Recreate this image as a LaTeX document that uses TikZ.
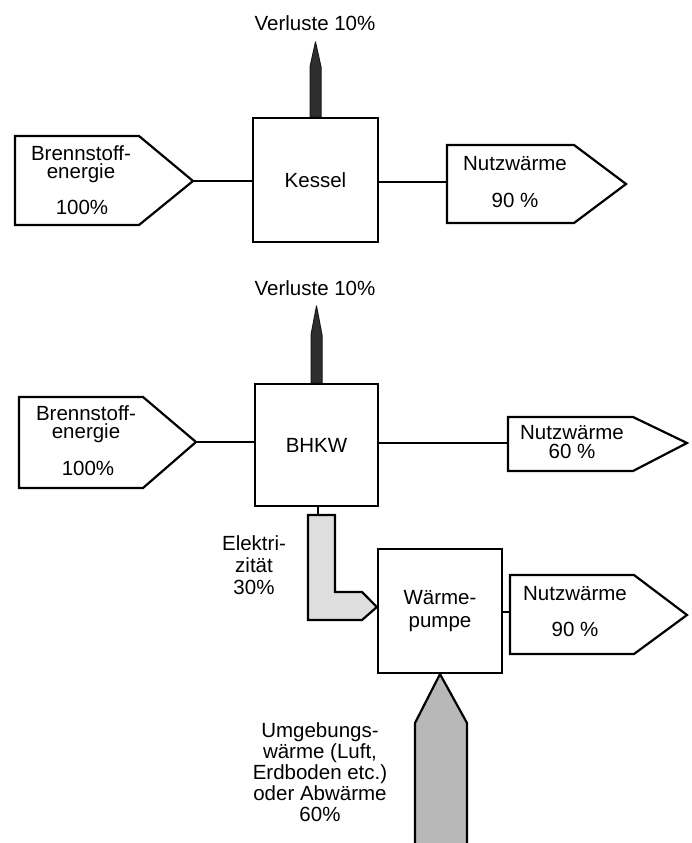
\documentclass[tikz,border=0pt]{standalone}
\usepackage{fontspec}
\setmainfont{Liberation Sans}
\usetikzlibrary{calc}
\begin{document}
\begin{tikzpicture}[x=1pt,y=-1pt,
  lw/.style={line width=2.2pt, line join=miter},
  unit/.style={draw, lw, inner sep=0, align=center, font=\fontsize{20.5}{23}\selectfont, fill=white},
  lbl/.style={inner sep=0, align=center, font=\fontsize{20.5}{21.5}\selectfont},
  tightlbl/.style={inner sep=0, align=center, font=\fontsize{20.5}{18.5}\selectfont},
  flow/.style={draw, lw, fill=white},
  loss/.style={fill=black!82, draw=black!90, line width=1pt, line join=round},
  elec/.style={draw, lw, fill=gray!26},
  amb/.style={fill=gray!56},
]
\useasboundingbox (0,0) rectangle (691,843);
\fill[white] (0,0) rectangle (691,843);

% ---------------- top: Kessel ----------------
\node[unit, minimum width=125pt, minimum height=124pt] (kessel) at (315.5,180) {Kessel};
\filldraw[loss] ($(kessel.north)+(-5.5,0)$) -- ($(kessel.north)+(-5.5,-50)$)
  -- ($(kessel.north)+(0,-75)$) coordinate (ktip) -- ($(kessel.north)+(5.5,-50)$)
  -- ($(kessel.north)+(5.5,0)$) -- cycle;
\node[lbl] (verl1) at (315,23) {Verluste 10\%};

\draw[flow] (15,136) -- (139,136) -- (193,181) coordinate (b1tip) -- (139,225) -- (15,225) -- cycle;
\node[tightlbl] (b1txt) at (81,164) {Brennstoff-\\energie};
\node[lbl] (b1pct) at (82,207) {100\%};
\draw[lw] (b1tip) -- (b1tip -| kessel.west);

\draw[flow] (447,145) -- (574,145) -- (626,184) -- (574,223) -- (447,223) -- cycle;
\coordinate (n1in) at (447,182);
\node[lbl] (n1txt) at (515,164) {Nutzwärme};
\node[lbl] (n1pct) at (515,200) {90 \%};
\draw[lw] (kessel.east |- n1in) -- (n1in);

% ---------------- middle: BHKW ----------------
\node[unit, minimum width=123pt, minimum height=122pt] (bhkw) at (316.5,445) {BHKW};
\filldraw[loss] ($(bhkw.north)+(-5.5,0)$) -- ($(bhkw.north)+(-5.5,-48)$)
  -- ($(bhkw.north)+(0,-77)$) coordinate (btip) -- ($(bhkw.north)+(5.5,-48)$)
  -- ($(bhkw.north)+(5.5,0)$) -- cycle;
\node[lbl] (verl2) at (315,288) {Verluste 10\%};

\draw[flow] (19,397) -- (143,397) -- (196,442) coordinate (b2tip) -- (143,488) -- (19,488) -- cycle;
\node[tightlbl] (b2txt) at (86,424) {Brennstoff-\\energie};
\node[lbl] (b2pct) at (88,468) {100\%};
\draw[lw] (b2tip) -- (b2tip -| bhkw.west);

\draw[flow] (508,417) -- (633,417) -- (687,443) -- (633,471) -- (508,471) -- cycle;
\coordinate (n2in) at (508,443);
\node[tightlbl] (n2txt) at (572,442) {Nutzwärme\\60 \%};
\draw[lw] (bhkw.east |- n2in) -- (n2in);

% ---------------- bottom: Wärmepumpe ----------------
\node[unit, minimum width=124pt, minimum height=124pt] (wp) at (440,611) {Wärme-\\pumpe};

\coordinate (etop) at (318,515);
\draw[lw] (etop |- bhkw.south) -- (etop);
\draw[elec] (308,515) -- (335,515) -- (335,592) -- (362,592) -- (wp.west |- 0,607) coordinate (etip)
  -- (362,620) -- (308,620) -- cycle;
\node[lbl, font=\fontsize{20.5}{22}\selectfont] (eltxt) at (254,565) {Elektri-\\zität\\30\%};

\draw[flow] (510,575) -- (634,575) -- (687,615) -- (634,654) -- (510,654) -- cycle;
\coordinate (n3in) at (510,612);
\node[lbl] (n3txt) at (575,594) {Nutzwärme};
\node[lbl] (n3pct) at (575,629) {90 \%};
\draw[lw] (wp.east |- n3in) -- (n3in);

\fill[amb] (415,850) -- (415,723) -- (wp.south) coordinate (atip) -- (467,723) -- (467,850) -- cycle;
\draw[lw] (415,850) -- (415,723) -- (atip) -- (467,723) -- (467,850);
\node[lbl, font=\fontsize{20.5}{21}\selectfont] (umtxt) at (320,772) {Umgebungs-\\wärme (Luft,\\Erdboden etc.)\\oder Abwärme\\60\%};
\end{tikzpicture}
\end{document}
